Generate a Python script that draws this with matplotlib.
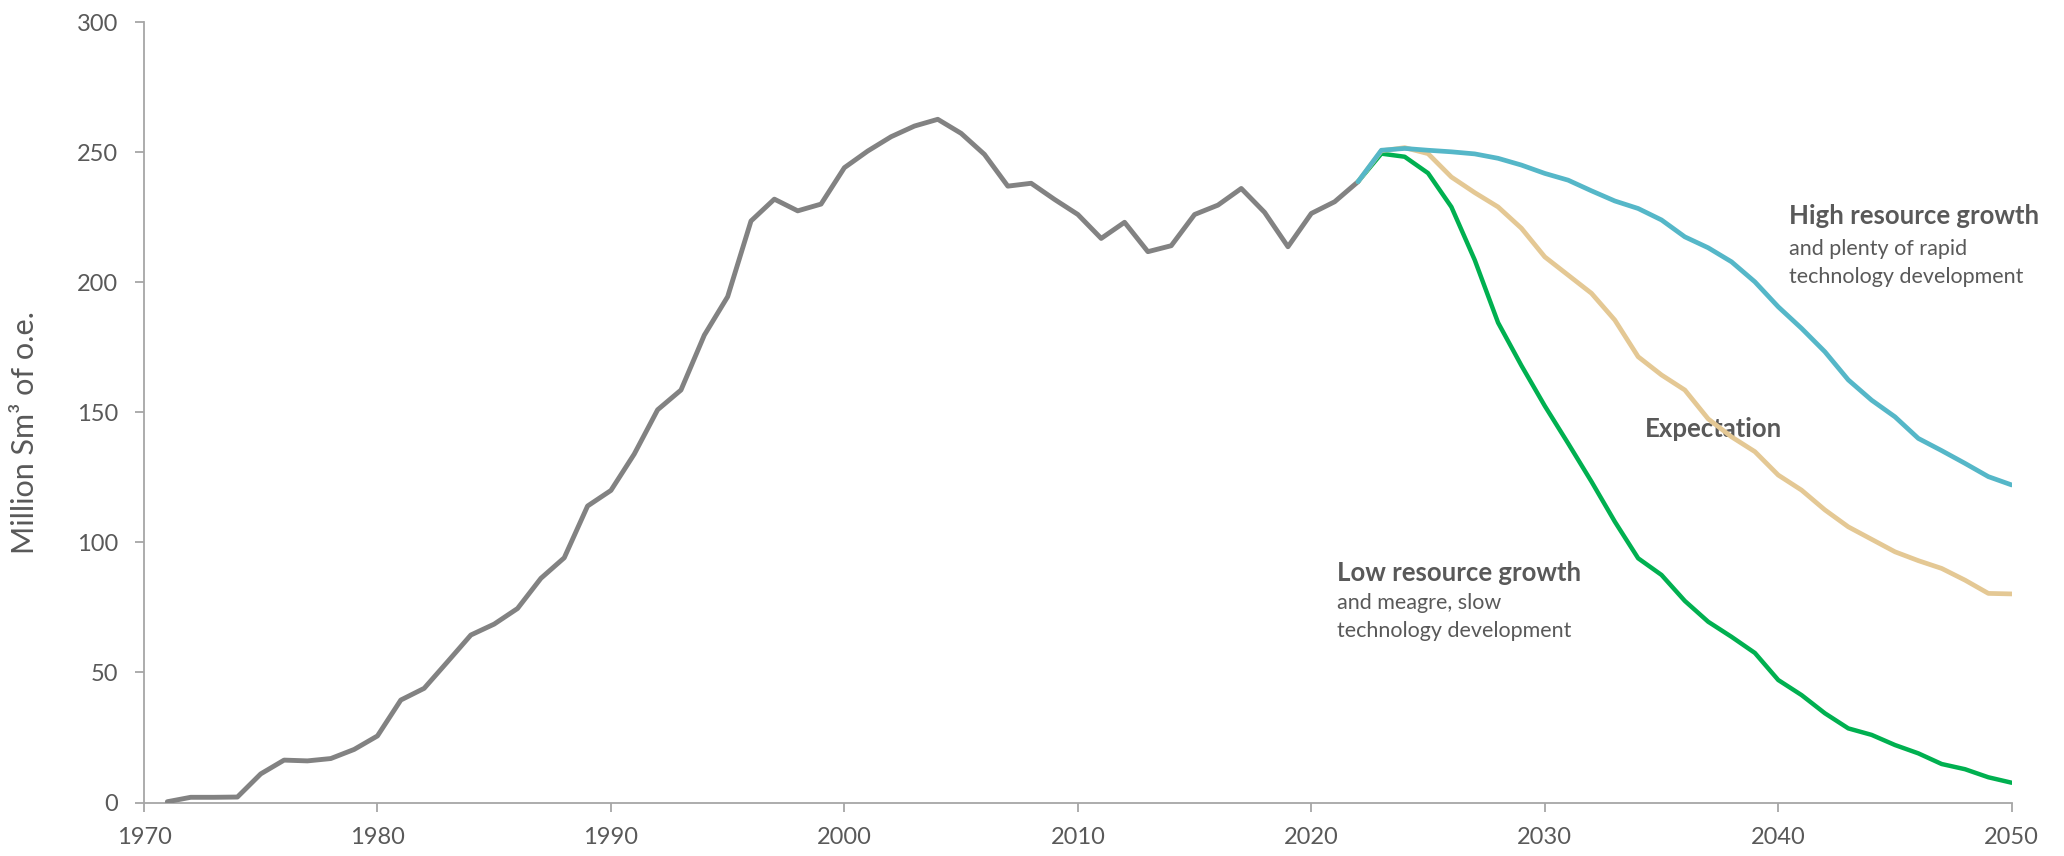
import matplotlib
matplotlib.use("Agg")
import matplotlib.pyplot as plt

plt.rcParams['font.family'] = ['Lato', 'DejaVu Sans']

# ---------------- data ----------------
hist_years = list(range(1971, 2023))
hist_values = [0.3, 2.0, 2.0, 2.1, 11.0, 16.3, 16.0, 16.9, 20.4, 25.6,
               39.4, 43.9, 54.1, 64.4, 68.6, 74.6, 86.2, 94.1, 114.0, 120.0,
               134.0, 151.0, 158.6, 179.7, 194.5, 223.6, 232.0, 227.5, 230.1, 244.1,
               250.5, 256.0, 260.1, 262.7, 257.3, 249.2, 237.0, 238.1, 231.9, 226.1,
               216.9, 223.1, 211.8, 214.1, 226.1, 229.7, 236.1, 226.9, 213.7, 226.5,
               231.0, 238.7]

scen_years = list(range(2022, 2051))
high_values = [238.7, 250.8, 251.5, 250.8, 250.2, 249.4, 247.7, 245.1, 241.9, 239.3,
               235.2, 231.3, 228.4, 224.0, 217.5, 213.3, 207.9, 200.2, 190.6, 182.3,
               173.3, 162.5, 154.7, 148.3, 140.0, 135.3, 130.4, 125.3, 122.1]
expect_values = [238.7, 250.6, 251.8, 249.5, 240.5, 234.5, 229.0, 220.8, 209.8, 202.8,
                 195.8, 185.5, 171.4, 164.4, 158.6, 147.5, 140.6, 134.9, 125.9, 120.1,
                 112.5, 106.0, 101.2, 96.4, 93.0, 90.0, 85.5, 80.4, 80.2]
low_values = [238.7, 249.5, 248.3, 242.0, 229.0, 208.6, 184.5, 168.0, 152.5, 138.1,
              123.4, 108.0, 93.9, 87.5, 77.5, 69.5, 63.7, 57.5, 47.1, 41.3,
              34.3, 28.5, 26.0, 22.1, 18.9, 14.8, 12.8, 9.7, 7.6]

x_ticks = [1970, 1980, 1990, 2000, 2010, 2020, 2030, 2040, 2050]
y_ticks = [0, 50, 100, 150, 200, 250, 300]

# ---------------- style ----------------
c_hist = '#828282'
c_high = '#55B7C8'
c_exp = '#E4C894'
c_low = '#00B050'
c_text = '#595959'
c_axis = '#A6A6A6'

fig = plt.figure(figsize=(20.64, 8.56), dpi=100)
ax = fig.add_axes([144 / 2064, 1 - 802.5 / 856, (2011.7 - 144) / 2064, (802.5 - 22.3) / 856])

ax.plot(hist_years, hist_values, color=c_hist, lw=3.5, solid_joinstyle='round', solid_capstyle='round', zorder=3)
ax.plot(scen_years, low_values, color=c_low, lw=3.2, solid_joinstyle='round', solid_capstyle='round', zorder=4)
ax.plot(scen_years, expect_values, color=c_exp, lw=3.4, solid_joinstyle='round', solid_capstyle='round', zorder=5)
ax.plot(scen_years, high_values, color=c_high, lw=3.4, solid_joinstyle='round', solid_capstyle='round', zorder=6)

ax.set_xlim(1970, 2050)
ax.set_ylim(0, 300)
ax.set_xticks(x_ticks)
ax.set_yticks(y_ticks)

for s in ['top', 'right']:
    ax.spines[s].set_visible(False)
for s in ['left', 'bottom']:
    ax.spines[s].set_color(c_axis)
    ax.spines[s].set_linewidth(1.3)

ax.tick_params(axis='both', direction='out', length=6.5, width=1.3, color=c_axis,
               labelcolor=c_text, labelsize=17)
ax.tick_params(axis='y', pad=12)
ax.tick_params(axis='x', pad=11)

ax.set_ylabel('Million Sm³ of o.e.', fontsize=22, color=c_text)
ax.yaxis.set_label_coords(-0.056, 0.474)

# annotations
ax.text(2040.48, 222.4, 'High resource growth', fontsize=18.5, fontweight='bold', color=c_text,
        ha='left', va='baseline')
ax.text(2040.48, 210.5, 'and plenty of rapid', fontsize=15.5, color=c_text, ha='left', va='baseline')
ax.text(2040.48, 199.9, 'technology development', fontsize=15.5, color=c_text, ha='left', va='baseline')

ax.text(2034.27, 140.4, 'Expectation', fontsize=18.5, fontweight='bold', color=c_text,
        ha='left', va='baseline')

ax.text(2021.1, 85.3, 'Low resource growth', fontsize=18.5, fontweight='bold', color=c_text,
        ha='left', va='baseline')
ax.text(2021.1, 74.5, 'and meagre, slow', fontsize=15.5, color=c_text, ha='left', va='baseline')
ax.text(2021.1, 63.6, 'technology development', fontsize=15.5, color=c_text, ha='left', va='baseline')

fig.savefig('out.png', dpi=100)
